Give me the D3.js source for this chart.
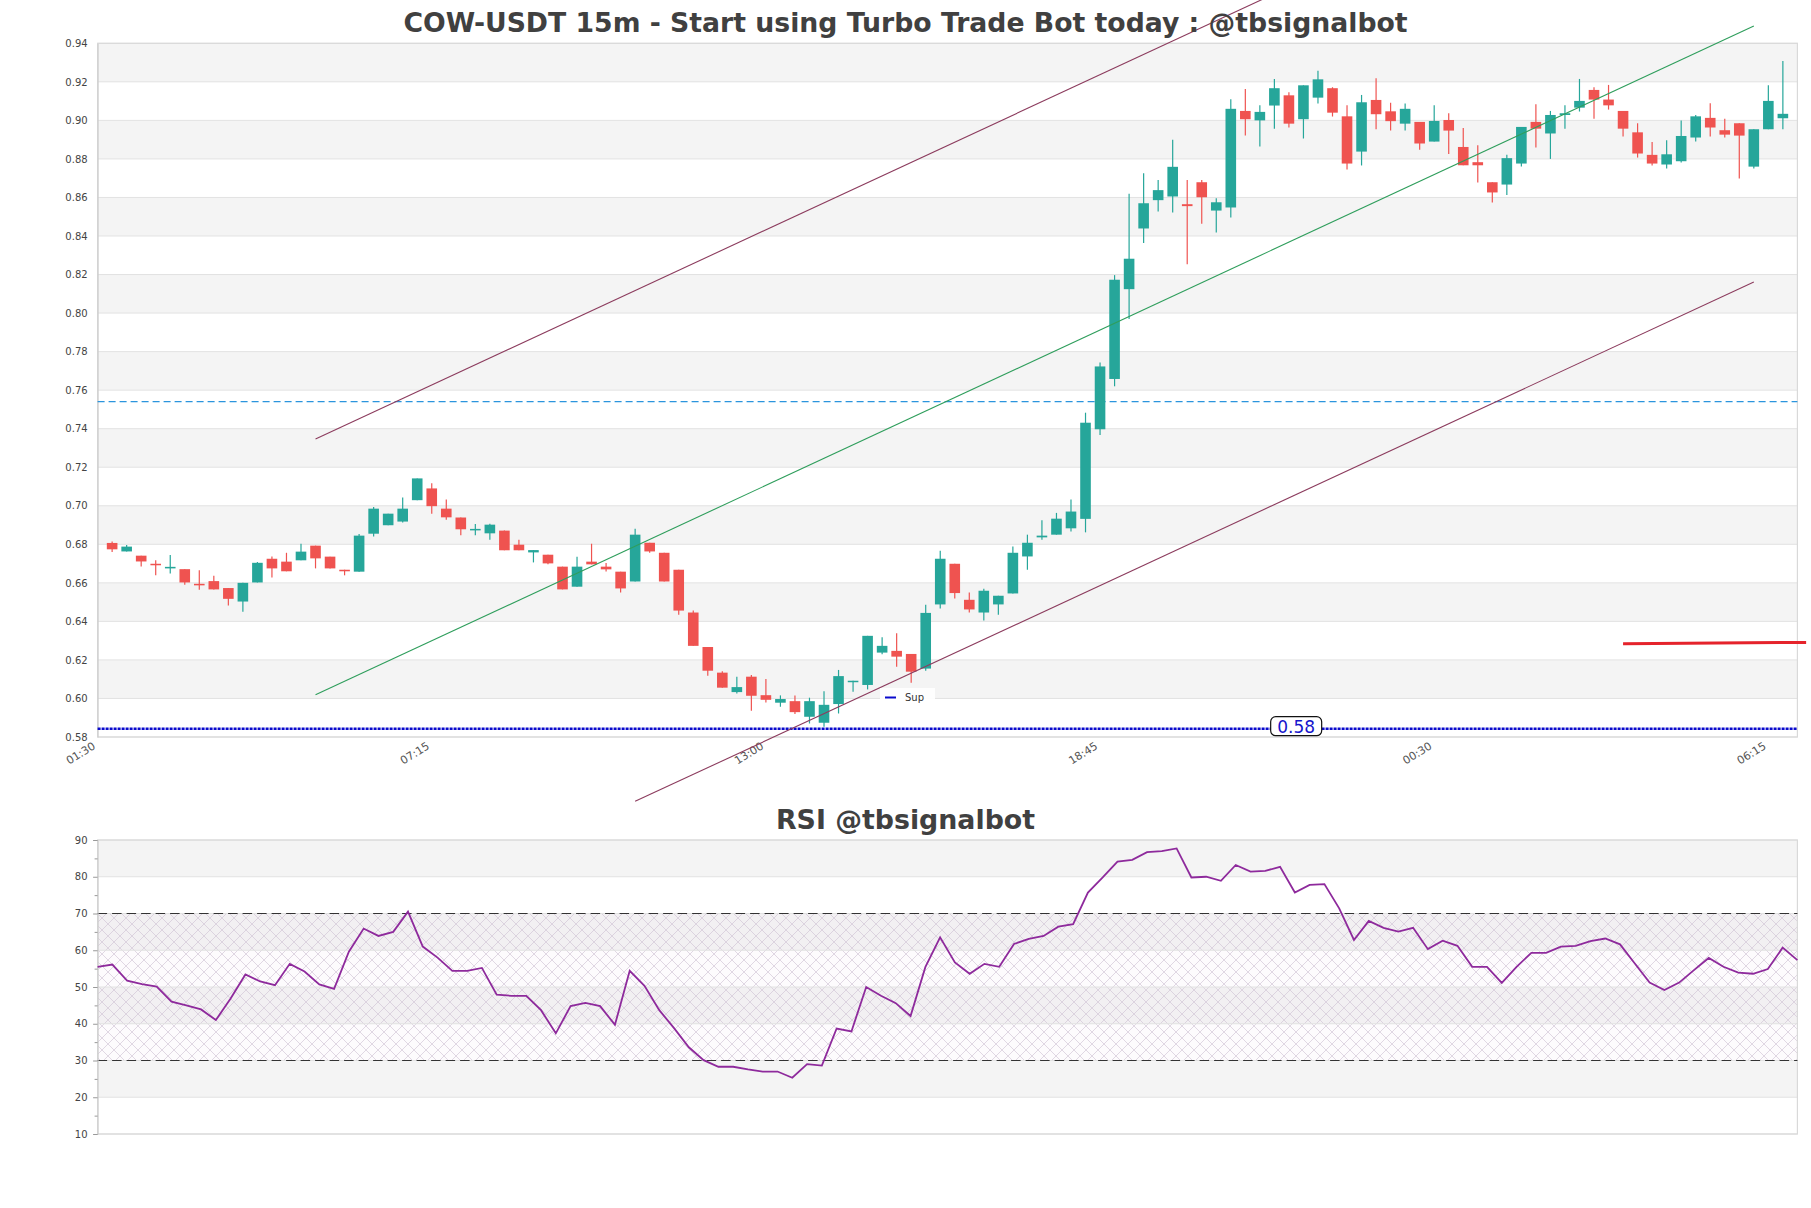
<!DOCTYPE html>
<html><head><meta charset="utf-8">
<script src="https://cdn.jsdelivr.net/npm/d3@7"></script>
<style>
body{margin:0;background:#fff}
svg{display:block}
text{font-family:"DejaVu Sans",sans-serif}
</style>
</head><body>
<svg id="c" width="1811" height="1208"></svg>
<script>
// ---------------- DATA ----------------
const titleMain = "COW-USDT 15m - Start using Turbo Trade Bot today : @tbsignalbot";
const titleRsi = "RSI @tbsignalbot";

// x tick positions (candle slot index, slot 0 = 01:30) and labels
const xTickIdx = [0, 23, 46, 69, 92, 115];
const xTickLabels = ["01:30", "07:15", "13:00", "18:45", "00:30", "06:15"];
const yTicks = [0.58,0.60,0.62,0.64,0.66,0.68,0.70,0.72,0.74,0.76,0.78,0.80,0.82,0.84,0.86,0.88,0.90,0.92,0.94];
const rsiTicks = [10,20,30,40,50,60,70,80,90];

// candles (slots 1..116, 15 minutes apart)
const opens = [0.6807,0.6763,0.6741,0.6699,0.6675,0.6671,0.6595,0.6609,0.6573,0.6503,
0.6602,0.6725,0.6710,0.6717,0.6793,0.6736,0.6668,0.6658,0.6855,0.6899,
0.6918,0.7029,0.7090,0.6985,0.6939,0.6873,0.6857,0.6871,0.6798,0.6758,
0.6746,0.6684,0.6580,0.6710,0.6684,0.6658,0.6607,0.6808,0.6756,0.6668,
0.6446,0.6267,0.6134,0.6033,0.6113,0.6017,0.5978,0.5986,0.5905,0.5874,
0.5971,0.6087,0.6070,0.6238,0.6247,0.6231,0.6155,0.6488,0.6699,0.6512,
0.6446,0.6488,0.6545,0.6737,0.6836,0.6850,0.6883,0.6932,0.7397,0.7658,
0.8124,0.8439,0.8586,0.8605,0.8565,0.8679,0.8532,0.8548,0.9049,0.9000,
0.9077,0.9130,0.9006,0.9118,0.9167,0.9021,0.8838,0.9106,0.9047,0.8983,
0.8992,0.8890,0.9002,0.8862,0.8783,0.8679,0.8667,0.8776,0.8992,0.8932,
0.9028,0.9066,0.9158,0.9108,0.9049,0.8938,0.8821,0.8771,0.8788,0.8911,
0.9013,0.8949,0.8985,0.8760,0.8954,0.9011];
const highs = [0.6814,0.6796,0.6741,0.6717,0.6744,0.6671,0.6666,0.6637,0.6573,0.6600,
0.6708,0.6737,0.6756,0.6803,0.6793,0.6736,0.6668,0.6854,0.6994,0.6959,
0.7043,0.7142,0.7117,0.7032,0.6939,0.6906,0.6907,0.6871,0.6824,0.6770,
0.6746,0.6684,0.6736,0.6803,0.6703,0.6658,0.6881,0.6808,0.6756,0.6668,
0.6456,0.6267,0.6141,0.6113,0.6122,0.6101,0.6016,0.6016,0.6004,0.6038,
0.6148,0.6092,0.6325,0.6318,0.6338,0.6231,0.6486,0.6767,0.6699,0.6550,
0.6569,0.6533,0.6789,0.6850,0.6925,0.6963,0.7032,0.7483,0.7744,0.8197,
0.8619,0.8726,0.8690,0.8899,0.8691,0.8691,0.8596,0.9110,0.9163,0.9078,
0.9215,0.9146,0.9182,0.9257,0.9172,0.9078,0.9132,0.9218,0.9091,0.9087,
0.8992,0.9078,0.9037,0.8961,0.8871,0.8679,0.8821,0.8966,0.9084,0.9049,
0.9078,0.9215,0.9172,0.9184,0.9049,0.8985,0.8888,0.8897,0.8999,0.9028,
0.9089,0.9008,0.8985,0.8954,0.9182,0.9308];
const lows = [0.6760,0.6763,0.6685,0.6639,0.6649,0.6590,0.6564,0.6566,0.6482,0.6450,
0.6602,0.6628,0.6660,0.6717,0.6675,0.6675,0.6639,0.6658,0.6841,0.6899,
0.6913,0.7029,0.6959,0.6928,0.6847,0.6847,0.6824,0.6769,0.6769,0.6706,
0.6696,0.6566,0.6580,0.6696,0.6659,0.6550,0.6607,0.6756,0.6607,0.6434,
0.6273,0.6118,0.6056,0.6026,0.5936,0.5979,0.5957,0.5919,0.5870,0.5853,
0.5922,0.6035,0.6047,0.6229,0.6165,0.6082,0.6144,0.6467,0.6519,0.6446,
0.6404,0.6434,0.6545,0.6668,0.6824,0.6850,0.6867,0.6862,0.7367,0.7620,
0.7969,0.8363,0.8527,0.8522,0.8254,0.8463,0.8418,0.8496,0.8921,0.8864,
0.8957,0.8963,0.8906,0.9087,0.9020,0.8745,0.8766,0.8954,0.8947,0.8947,
0.8847,0.8890,0.8826,0.8767,0.8677,0.8574,0.8613,0.8760,0.8859,0.8800,
0.8957,0.9046,0.9008,0.9056,0.8916,0.8807,0.8766,0.8750,0.8781,0.8890,
0.8916,0.8911,0.8698,0.8750,0.8954,0.8954];
const closes = [0.6774,0.6788,0.6711,0.6695,0.6683,0.6602,0.6587,0.6566,0.6517,0.6600,
0.6704,0.6675,0.6660,0.6762,0.6727,0.6675,0.6660,0.6845,0.6985,0.6959,
0.6985,0.7142,0.6998,0.6940,0.6878,0.6880,0.6902,0.6769,0.6769,0.6770,
0.6701,0.6566,0.6684,0.6696,0.6670,0.6571,0.6850,0.6763,0.6607,0.6456,
0.6273,0.6144,0.6056,0.6059,0.6014,0.5993,0.5997,0.5929,0.5986,0.5967,
0.6116,0.6092,0.6325,0.6273,0.6217,0.6139,0.6444,0.6725,0.6547,0.6462,
0.6559,0.6533,0.6756,0.6808,0.6845,0.6933,0.6970,0.7431,0.7723,0.8173,
0.8282,0.8570,0.8638,0.8759,0.8555,0.8601,0.8575,0.9060,0.9006,0.9044,
0.9167,0.8983,0.9182,0.9213,0.9040,0.8776,0.9094,0.9032,0.8996,0.9060,
0.8880,0.8997,0.8947,0.8767,0.8767,0.8626,0.8804,0.8966,0.8957,0.9028,
0.9037,0.9101,0.9108,0.9078,0.8957,0.8828,0.8776,0.8824,0.8919,0.9021,
0.8963,0.8926,0.8921,0.8954,0.9101,0.9034];

// RSI (one value per candle)
const rsi = [55.5,56.1,51.7,50.8,50.1,46.0,45.0,43.9,41.0,46.9,
53.4,51.5,50.5,56.3,54.2,50.7,49.5,59.6,65.9,63.9,
65.0,70.5,61.0,58.0,54.4,54.4,55.2,47.9,47.6,47.6,
43.7,37.4,44.8,45.7,44.8,39.7,54.4,50.3,43.7,38.8,
33.6,30.1,28.3,28.3,27.6,27.0,27.0,25.3,29.0,28.6,
38.7,37.9,50.0,47.6,45.6,42.1,55.4,63.5,56.7,53.6,
56.3,55.5,61.7,63.1,63.9,66.4,67.1,75.7,79.8,84.1,
84.6,86.7,87.0,87.7,79.8,80.0,78.9,83.2,81.4,81.6,
82.7,75.7,77.8,78.0,71.4,62.8,68.0,66.1,65.1,66.1,
60.3,62.6,61.2,55.5,55.5,51.1,55.5,59.3,59.3,61.0,
61.2,62.5,63.2,61.6,56.4,51.2,49.2,51.2,54.6,57.9,
55.5,53.9,53.6,54.9,60.7,57.3];

// channel lines: [slot, price] endpoints
const upperChannel = [[15, 0.7347], [114, 1.0812]];
const midChannel   = [[15, 0.6019], [114, 0.9490]];
const lowerChannel = [[37, 0.5466], [114, 0.8161]];
const resistLevel = 0.754;
const supportLevel = 0.5843;
const supportLabel = "0.58";
const supportLabelSlot = 82.5;
const redLevel = [[105, 0.6284], [117.6, 0.6291]];
const rsiLevels = [30, 70];

// ---------------- CHART ----------------
const svg = d3.select("#c");
const L = 97.6, Rr = 1797.4, T = 43.3, B = 737;
const RT = 840, RB = 1134;
const UP = "#26a69a", DN = "#ef5350";

const x = d3.scaleLinear().domain([0, 117]).range([L, Rr]);
const y = d3.scaleLinear().domain([0.58, 0.94]).range([B, T]);
const xr = d3.scaleLinear().domain([0, rsi.length - 1]).range([L, Rr]);
const yr = d3.scaleLinear().domain([10, 90]).range([RB, RT]);

const defs = svg.append("defs");
const pat = defs.append("pattern").attr("id", "hatch")
  .attr("patternUnits", "userSpaceOnUse").attr("width", 12).attr("height", 12);
pat.append("path").attr("d", "M0,0L12,12M12,0L0,12M-6,6L6,18M6,-6L18,6M18,6L6,18M6,-6L-6,6")
  .attr("stroke", "#cdbfd2").attr("stroke-width", 0.6).attr("fill", "none");

// main bands
const gm = svg.append("g");
yTicks.slice(0, -1).forEach((t, k) => {
  if (k % 2 === 1) gm.append("rect").attr("x", L).attr("width", Rr - L)
    .attr("y", y(yTicks[k + 1])).attr("height", y(t) - y(yTicks[k + 1])).attr("fill", "#f4f4f4");
});
gm.selectAll("line.grid").data(yTicks).join("line").attr("class", "grid")
  .attr("x1", L).attr("x2", Rr).attr("y1", d => y(d)).attr("y2", d => y(d))
  .attr("stroke", "#e2e2e2").attr("stroke-width", 1);
gm.append("rect").attr("x", L).attr("y", T).attr("width", Rr - L).attr("height", B - T)
  .attr("fill", "none").attr("stroke", "#d9d9d9").attr("stroke-width", 1.2);

// y axis main
const ya = svg.append("g").attr("transform", `translate(${L},0)`)
  .call(d3.axisLeft(y).tickValues(yTicks).tickFormat(d3.format(".2f")).tickSize(0).tickPadding(10));
ya.select(".domain").attr("stroke", "#cccccc");
ya.selectAll("text").attr("font-size", 10).attr("fill", "#444").attr("font-family", "DejaVu Sans");

// x axis main
const xa = svg.append("g").attr("transform", `translate(0,${B})`)
  .call(d3.axisBottom(x).tickValues(xTickIdx).tickFormat((d, i) => xTickLabels[i]).tickSize(0));
xa.select(".domain").remove();
xa.selectAll("text").attr("font-size", 11).attr("fill", "#555").attr("font-family", "DejaVu Sans")
  .attr("y", 0).attr("dy", 0).attr("text-anchor", "end")
  .attr("transform", "translate(-2,11) rotate(-32)");

// horizontal levels
svg.append("line").attr("x1", L).attr("x2", Rr).attr("y1", y(resistLevel)).attr("y2", y(resistLevel))
  .attr("stroke", "#2b95dd").attr("stroke-width", 1.3).attr("stroke-dasharray", "7,4");

// candles
const data = opens.map((o, k) => ({ i: k + 1, o, h: highs[k], l: lows[k], c: closes[k] }));
const bw = (x(1) - x(0)) * 0.73;
const cg = svg.append("g").selectAll("g").data(data).join("g");
cg.append("line").attr("x1", d => x(d.i)).attr("x2", d => x(d.i))
  .attr("y1", d => y(d.h)).attr("y2", d => y(d.l))
  .attr("stroke", d => d.c >= d.o ? UP : DN).attr("stroke-width", 1.2);
cg.append("rect").attr("x", d => x(d.i) - bw / 2).attr("width", bw)
  .attr("y", d => y(Math.max(d.o, d.c)))
  .attr("height", d => Math.max(1.5, Math.abs(y(d.o) - y(d.c))))
  .attr("fill", d => d.c >= d.o ? UP : DN);

// support dotted
svg.append("line").attr("x1", L).attr("x2", Rr).attr("y1", y(supportLevel)).attr("y2", y(supportLevel))
  .attr("stroke", "#0a0acc").attr("stroke-width", 2.6).attr("stroke-dasharray", "3,1");

// channel lines
const ln = d3.line().x(d => x(d[0])).y(d => y(d[1]));
svg.append("path").attr("d", ln(upperChannel)).attr("stroke", "#8c3c5e").attr("stroke-width", 1.1).attr("fill", "none");
svg.append("path").attr("d", ln(lowerChannel)).attr("stroke", "#8c3c5e").attr("stroke-width", 1.1).attr("fill", "none");
svg.append("path").attr("d", ln(midChannel)).attr("stroke", "#2f9e5c").attr("stroke-width", 1.1).attr("fill", "none");
svg.append("path").attr("d", ln(redLevel)).attr("stroke", "#e5232b").attr("stroke-width", 3).attr("fill", "none");

// support label
const lx = x(supportLabelSlot), ly = y(supportLevel) - 2;
svg.append("rect").attr("x", lx - 25.5).attr("y", ly - 10).attr("width", 51).attr("height", 19)
  .attr("rx", 5).attr("fill", "#fff").attr("stroke", "#111").attr("stroke-width", 1.2);
svg.append("text").attr("x", lx).attr("y", ly + 6).attr("text-anchor", "middle")
  .attr("font-size", 17).attr("fill", "#1515cc").text(supportLabel);

// legend
const lg = svg.append("g");
lg.append("rect").attr("x", 880).attr("y", 688).attr("width", 55).attr("height", 16).attr("fill", "#fff").attr("opacity", 0.9);
lg.append("line").attr("x1", 885).attr("x2", 896).attr("y1", 697.5).attr("y2", 697.5).attr("stroke", "#0a0acc").attr("stroke-width", 2);
lg.append("text").attr("x", 905).attr("y", 700.5).attr("font-size", 10).attr("fill", "#333").text("Sup");

// titles
svg.append("text").attr("x", 905.5).attr("y", 32).attr("text-anchor", "middle")
  .attr("font-size", 26.7).attr("font-weight", "bold").attr("fill", "#404040").text(titleMain);
svg.append("text").attr("x", 905.5).attr("y", 829).attr("text-anchor", "middle")
  .attr("font-size", 26.8).attr("font-weight", "bold").attr("fill", "#404040").text(titleRsi);

// ---------------- RSI ----------------
const gr = svg.append("g");
rsiTicks.slice(0, -1).forEach((t, k) => {
  if (k % 2 === 1) gr.append("rect").attr("x", L).attr("width", Rr - L)
    .attr("y", yr(rsiTicks[k + 1])).attr("height", yr(t) - yr(rsiTicks[k + 1])).attr("fill", "#f4f4f4");
});
gr.append("rect").attr("x", L).attr("width", Rr - L).attr("y", yr(rsiLevels[1]))
  .attr("height", yr(rsiLevels[0]) - yr(rsiLevels[1])).attr("fill", "rgba(150,80,170,0.025)");
gr.append("rect").attr("x", L).attr("width", Rr - L).attr("y", yr(rsiLevels[1]))
  .attr("height", yr(rsiLevels[0]) - yr(rsiLevels[1])).attr("fill", "url(#hatch)");
gr.selectAll("line.grid").data(rsiTicks).join("line").attr("class", "grid")
  .attr("x1", L).attr("x2", Rr).attr("y1", d => yr(d)).attr("y2", d => yr(d))
  .attr("stroke", "#e2e2e2").attr("stroke-width", 1);
gr.append("rect").attr("x", L).attr("y", RT).attr("width", Rr - L).attr("height", RB - RT)
  .attr("fill", "none").attr("stroke", "#d9d9d9").attr("stroke-width", 1.2);
gr.selectAll("line.lvl").data(rsiLevels).join("line").attr("class", "lvl")
  .attr("x1", L).attr("x2", Rr).attr("y1", d => yr(d)).attr("y2", d => yr(d))
  .attr("stroke", "#333").attr("stroke-width", 1.2).attr("stroke-dasharray", "9.5,5");

const minor = d3.range(10, 91, 5);
const ra = svg.append("g").attr("transform", `translate(${L},0)`)
  .call(d3.axisLeft(yr).tickValues(minor).tickFormat(d => d % 10 === 0 ? d : "").tickSize(4).tickPadding(6));
ra.select(".domain").attr("stroke", "#cccccc");
ra.selectAll(".tick line").attr("stroke", "#999").attr("x2", d => d % 10 === 0 ? -4.5 : -3);
ra.selectAll("text").attr("font-size", 10).attr("fill", "#444").attr("font-family", "DejaVu Sans");

svg.append("path").datum(rsi)
  .attr("d", d3.line().x((d, j) => xr(j)).y(d => yr(d)))
  .attr("fill", "none").attr("stroke", "#8e2a9c").attr("stroke-width", 1.8);
</script>
</body></html>
